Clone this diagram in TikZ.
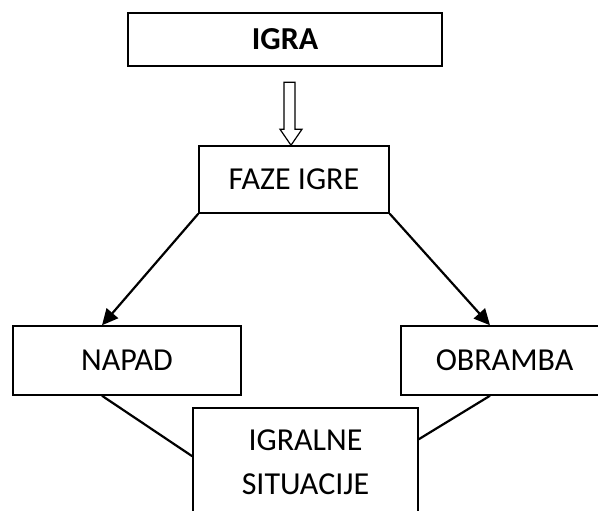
\documentclass[tikz,border=0pt]{standalone}
\usepackage{fontspec}
\setmainfont{Carlito}
\usetikzlibrary{arrows.meta}

\begin{document}
\begin{tikzpicture}[
    x=1pt, y=-1pt,
    block/.style={rectangle, draw, line width=1.5pt, inner sep=0pt, text centered, font=\fontsize{32}{44}\selectfont},
    line/.style={draw, line width=2.2pt, -{Triangle[length=16pt,width=15pt]}},
    link/.style={draw, line width=2.2pt},
    hollow/.style={draw, line width=1.2pt, line join=miter}
]
    \clip (0,0) rectangle (598,511);
    \node [block, line width=2.2pt, minimum width=314pt, minimum height=53pt, font=\fontsize{32}{36}\selectfont\bfseries] (igra) at (285,39.5) {IGRA};
    \node [block, minimum width=190pt, minimum height=67pt] (faze) at (294,179.5) {FAZE IGRE};
    \node [block, minimum width=228pt, minimum height=69pt] (napad) at (127,360.5) {NAPAD};
    \node [block, minimum width=207pt, minimum height=69pt] (obramba) at (504.5,360.5) {OBRAMBA};
    \node [block, align=center, minimum width=225pt, minimum height=108pt] (situacije) at (305.5,462) {IGRALNE\\SITUACIJE};

    % hollow arrow
    \coordinate (tip) at ([xshift=-3pt]faze.north);
    \path [hollow] (tip) -- ++(-11,-16) -- ++(4,0) -- ++(0,-47) -- ++(11,0) -- ++(0,47) -- ++(7,0) -- cycle;

    \path [line] (faze.south west) -- ([xshift=-25pt]napad.north);
    \path [line] (faze.south east) -- ([xshift=-14.5pt]obramba.north);
    \path [link] ([xshift=-25pt]napad.south) -- ([yshift=-49pt]situacije.north west);
    \path [link] ([xshift=-14.5pt]obramba.south) -- ([yshift=-32pt]situacije.north east);
\end{tikzpicture}
\end{document}
